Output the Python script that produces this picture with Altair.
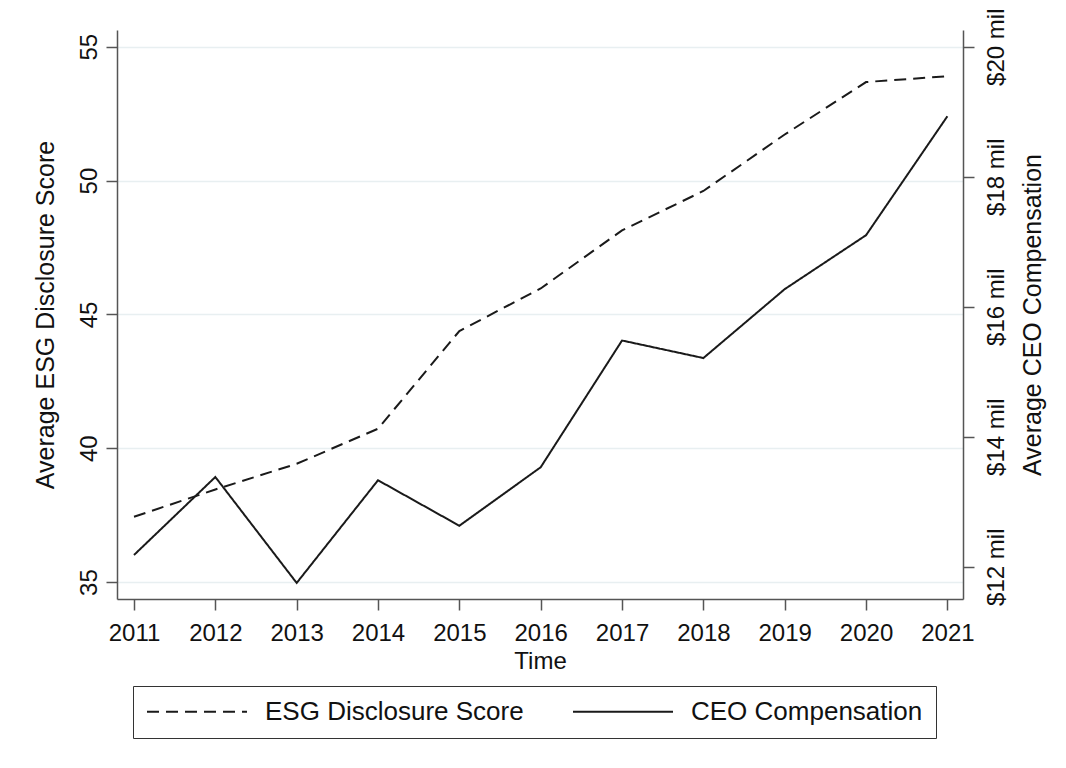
import altair as alt
import pandas as pd

# ---- data ----
years = list(range(2011, 2022))
esg_score = [37.44, 38.46, 39.42, 40.73, 44.38, 45.97, 48.14, 49.61, 51.72, 53.68, 53.90]
ceo_comp = [12.18, 13.38, 11.75, 13.33, 12.63, 13.53, 15.48, 15.21, 16.27, 17.10, 18.93]
series_names = ["ESG Disclosure Score", "CEO Compensation"]
left_ticks = [35, 40, 45, 50, 55]
right_ticks = [12, 14, 16, 18, 20]

df_esg = pd.DataFrame({"year": years, "value": esg_score, "series": series_names[0]})
df_ceo = pd.DataFrame({"year": years, "value": ceo_comp, "series": series_names[1]})

FONT = "Liberation Sans"
TXT = "#111111"
AX = "#555555"
W, H = 846, 569

x_enc = alt.X(
    "year:Q",
    scale=alt.Scale(domain=[2010.791, 2021.192], nice=False, zero=False),
    axis=alt.Axis(
        values=years, format="d", title="Time", grid=False,
        tickSize=11, labelPadding=30, labelBaseline="alphabetic",
        labelFontSize=24, titleFontSize=24, titleBaseline="alphabetic",
        titleY=69, labelFlush=False,
    ),
)

dash = alt.StrokeDash(
    "series:N",
    scale=alt.Scale(domain=series_names, range=[[12, 7], [1, 0]]),
    legend=alt.Legend(
        title=None, orient="none", legendX=16, legendY=656,
        direction="horizontal", columns=2, columnPadding=48,
        symbolType="stroke", symbolSize=10000, symbolStrokeWidth=2,
        symbolStrokeColor="#1a1a1a", clipHeight=25,
        labelFont=FONT, labelFontSize=26, labelColor=TXT, labelOffset=17,
        labelLimit=500, padding=13, strokeColor="#333333", fillColor="white",
    ),
)

esg_line = alt.Chart(df_esg).mark_line(color="#1a1a1a", strokeWidth=2).encode(
    x=x_enc,
    y=alt.Y(
        "value:Q",
        scale=alt.Scale(domain=[34.369, 55.624], nice=False, zero=False),
        axis=alt.Axis(
            orient="left", values=left_ticks, title="Average ESG Disclosure Score",
            grid=True, gridColor="#e8eff1", gridWidth=1.5,
            tickSize=11, labelAngle=270, labelAlign="center",
            labelBaseline="alphabetic", labelPadding=10, labelFontSize=24,
            titleFontSize=25, titleAngle=270, titleAlign="center",
            titleBaseline="alphabetic", titleX=-64, titleY=284.5, labelFlush=False,
        ),
    ),
    strokeDash=dash,
)

ceo_line = alt.Chart(df_ceo).mark_line(color="#1a1a1a", strokeWidth=2).encode(
    x=x_enc,
    y=alt.Y(
        "value:Q",
        scale=alt.Scale(domain=[11.503, 20.257], nice=False, zero=False),
        axis=alt.Axis(
            orient="right", values=right_ticks, title="Average CEO Compensation",
            labelExpr="'$' + datum.value + ' mil'", grid=False,
            tickSize=11, labelAngle=270, labelAlign="center",
            labelBaseline="alphabetic", labelPadding=29, labelFontSize=24,
            titleFontSize=25, titleAngle=270, titleAlign="center",
            titleBaseline="alphabetic", titleX=77, titleY=284.5, labelFlush=False,
        ),
    ),
    strokeDash=dash,
)

chart = (
    alt.layer(esg_line, ceo_line)
    .resolve_scale(y="independent", strokeDash="shared")
    .properties(
        width=W, height=H,
        autosize=alt.AutoSizeParams(type="none"),
        padding={"left": 117, "top": 30, "right": 1066 - 117 - W, "bottom": 768 - 30 - H},
        background="white",
    )
    .configure_view(stroke=None)
    .configure_axis(
        labelFont=FONT, titleFont=FONT, labelColor=TXT, titleColor=TXT,
        titleFontWeight="normal", domainColor=AX, tickColor=AX,
        domainWidth=1.5, tickWidth=1.5,
    )
)

chart.save("out.html", embed_options={"renderer": "svg", "actions": False})
